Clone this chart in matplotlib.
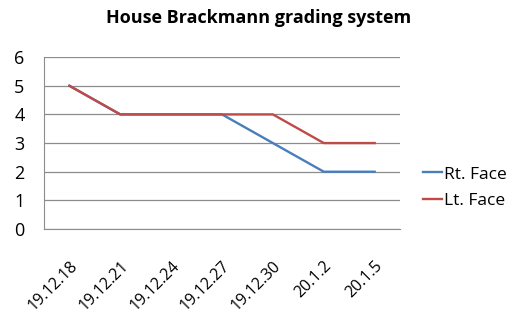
import matplotlib
matplotlib.use("Agg")
import matplotlib.pyplot as plt

dates = ["19.12.18", "19.12.21", "19.12.24", "19.12.27", "19.12.30", "20.1.2", "20.1.5"]
rt_face = [5, 4, 4, 4, 3, 2, 2]
lt_face = [5, 4, 4, 4, 4, 3, 3]
y_ticks = [0, 1, 2, 3, 4, 5, 6]

plt.rcParams["font.family"] = ["Open Sans", "DejaVu Sans"]

fig = plt.figure(figsize=(5.11, 3.19), dpi=100)
ax = fig.add_axes([0.086, 0.282, 0.697, 0.539])

x = list(range(len(dates)))
ax.plot(x, rt_face, color="#4A7EBB", linewidth=1.7, label="Rt. Face")
ax.plot(x, lt_face, color="#BE4B48", linewidth=1.7, label="Lt. Face")

ax.set_xlim(-0.5, len(dates) - 0.5)
ax.set_ylim(0, 6)
ax.set_yticks(y_ticks)
ax.set_xticks(x)
ax.set_xticklabels(dates, rotation=45, ha="right", rotation_mode="anchor", fontsize=11.5)
ax.tick_params(axis="y", length=0, labelsize=13, pad=14)
ax.tick_params(axis="x", length=0, pad=21)
ax.grid(axis="y", color="#8C8C8C", linewidth=0.9)
ax.set_axisbelow(True)
for side in ["top", "right"]:
    ax.spines[side].set_visible(False)
ax.spines["left"].set_color("#8C8C8C")
ax.spines["bottom"].set_color("#8C8C8C")

fig.text(0.507, 0.943, "House Brackmann grading system", ha="center", va="center",
         fontsize=13, fontweight="bold")

ax.legend(loc="center left", bbox_to_anchor=(1.02, 0.24), frameon=False,
          handlelength=1.1, handletextpad=0.1, labelspacing=0.6, fontsize=12.5)

fig.savefig("out.png", dpi=100)
